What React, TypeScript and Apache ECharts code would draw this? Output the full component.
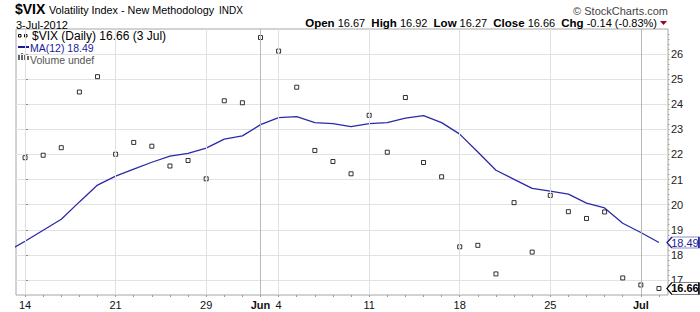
import React, { useEffect, useRef } from 'react';
import * as echarts from 'echarts';

// Trading days shown (14 May 2012 – 3 Jul 2012)
const days = [
  'May 14', 'May 15', 'May 16', 'May 17', 'May 18',
  'May 21', 'May 22', 'May 23', 'May 24', 'May 25',
  'May 29', 'May 30', 'May 31', 'Jun 1',
  'Jun 4', 'Jun 5', 'Jun 6', 'Jun 7', 'Jun 8',
  'Jun 11', 'Jun 12', 'Jun 13', 'Jun 14', 'Jun 15',
  'Jun 18', 'Jun 19', 'Jun 20', 'Jun 21', 'Jun 22',
  'Jun 25', 'Jun 26', 'Jun 27', 'Jun 28', 'Jun 29',
  'Jul 2', 'Jul 3',
];

// $VIX daily closes
const closes = [
  21.87, 21.97, 22.27, 24.49, 25.10,
  22.01, 22.48, 22.33, 21.54, 21.76,
  21.03, 24.14, 24.06, 26.66,
  26.12, 24.68, 22.16, 21.72, 21.23,
  23.56, 22.09, 24.27, 21.68, 21.11,
  18.32, 18.38, 17.24, 20.08, 18.11,
  20.37, 19.72, 19.45, 19.71, 17.08,
  16.80, 16.66,
];

// MA(12)
const ma12 = [
  18.54, 18.98, 19.42, 20.11, 20.78,
  21.14, 21.42, 21.69, 21.93, 22.04,
  22.25, 22.61, 22.74, 23.19,
  23.47, 23.51, 23.27, 23.23, 23.11,
  23.23, 23.27, 23.45, 23.55, 23.27,
  22.81, 22.10, 21.37, 21.01, 20.65,
  20.54, 20.42, 20.06, 19.87, 19.26,
  18.89, 18.49,
];
// MA(12) on the session before the window (11 May), off the left edge
const maBefore = 18.13;

// x-axis tick labels (at day index)
const xTickIndex = [0, 5, 10, 13, 14, 19, 24, 29, 34];
const xTickLabels = ['14', '21', '29', 'Jun', '4', '11', '18', '25', 'Jul'];
const monthStartIndex = [13, 34];

// y-axis
const yTicks = [17, 18, 19, 20, 21, 22, 23, 24, 25, 26];
const yMin = 16.4;
const yMax = 27;

const FONT = '"Liberation Sans", Arial, sans-serif';
const TAG = 'path://M0,5 L5,0 L32,0 L32,10 L5,10 Z';

export default function App() {
  const ref = useRef<HTMLDivElement>(null);

  useEffect(() => {
    if (!ref.current) return;
    const chart = echarts.init(ref.current, undefined, { renderer: 'svg' });

    const labelMap: Record<number, string> = {};
    xTickIndex.forEach((i, k) => (labelMap[i] = xTickLabels[k]));

    const dayIdx = days.map((_, i) => i);
    const minorY: number[] = [];
    for (let k = 0; k <= 52; k++) {
      const v = Math.round((16.6 + k * 0.2) * 10) / 10;
      if (v < yMax) minorY.push(v);
    }

    const last = days.length - 1;

    const option: any = {
      animation: false,
      backgroundColor: '#ffffff',
      textStyle: { fontFamily: FONT },
      grid: {
        left: 16,
        right: 32,
        top: 29,
        bottom: 17,
        show: true,
        borderColor: '#a6a6a6',
        borderWidth: 1,
        backgroundColor: '#ffffff',
      },
      xAxis: [
        {
          type: 'value',
          min: -0.5,
          max: last + 0.5,
          axisLine: { show: false },
          splitLine: { show: false },
          axisTick: {
            show: true,
            customValues: dayIdx,
            length: 2,
            lineStyle: { color: '#9a9a9a' },
          },
          axisLabel: {
            customValues: xTickIndex,
            margin: 4,
            color: '#111',
            fontSize: 11,
            fontFamily: FONT,
            formatter: (v: number) => {
              const s = labelMap[Math.round(v)] ?? '';
              return s === 'Jun' || s === 'Jul' ? `{b|${s}}` : s;
            },
            rich: {
              b: { fontWeight: 'bold', fontSize: 11, fontFamily: FONT, color: '#111' },
            },
          },
        },
      ],
      yAxis: [
        {
          type: 'value',
          position: 'right',
          min: yMin,
          max: yMax,
          axisLine: { show: false },
          axisTick: {
            show: true,
            customValues: yTicks,
            length: 3,
            lineStyle: { color: '#8a8a8a' },
          },
          axisLabel: {
            customValues: yTicks,
            margin: 3,
            color: '#222',
            fontSize: 11,
            fontFamily: FONT,
          },
          splitLine: { show: true, lineStyle: { color: '#e2e2e2', width: 1 } },
        },
        {
          type: 'value',
          position: 'right',
          min: yMin,
          max: yMax,
          axisLine: { show: false },
          axisLabel: { show: false },
          splitLine: { show: false },
          axisTick: {
            show: true,
            customValues: minorY,
            length: 1.5,
            lineStyle: { color: '#a0a0a0' },
          },
        },
      ],
      series: [
        {
          name: 'MA(12)',
          type: 'line',
          z: 2,
          data: [[-1, maBefore], ...ma12.map((v, i) => [i, v])],
          symbol: 'none',
          clip: true,
          lineStyle: { color: '#2a2aa8', width: 1.3 },
          markLine: {
            silent: true,
            symbol: ['none', 'none'],
            label: { show: false },
            data: xTickIndex.map((i) => ({
              xAxis: i,
              lineStyle: {
                color: monthStartIndex.includes(i) ? '#b9b9b9' : '#e0e0e0',
                width: 1,
                type: 'solid',
              },
            })),
          },
          markPoint: {
            silent: true,
            data: [
              {
                coord: [last, ma12[last]],
                symbol: TAG,
                symbolSize: [32, 11],
                symbolOffset: [24, 0],
                itemStyle: { color: '#ffffff', borderColor: '#1a1a99', borderWidth: 1 },
                label: {
                  show: true,
                  position: 'inside',
                  offset: [2, 0],
                  formatter: ma12[last].toFixed(2),
                  color: '#1a1a99',
                  fontSize: 11,
                  fontFamily: FONT,
                },
              },
            ],
          },
        },
        {
          name: '$VIX',
          type: 'scatter',
          z: 3,
          data: closes.map((v, i) => [i, v]),
          symbol: 'rect',
          symbolSize: 4,
          itemStyle: { color: '#ffffff', borderColor: '#000000', borderWidth: 1 },
          markPoint: {
            silent: true,
            data: [
              {
                coord: [last, closes[last]],
                symbol: TAG,
                symbolSize: [32, 12],
                symbolOffset: [24, 0],
                itemStyle: { color: '#ffffff', borderColor: '#000000', borderWidth: 1 },
                label: {
                  show: true,
                  position: 'inside',
                  offset: [2, 0],
                  formatter: closes[last].toFixed(2),
                  color: '#000000',
                  fontSize: 11,
                  fontWeight: 'bold',
                  fontFamily: FONT,
                },
              },
            ],
          },
        },
      ],
      graphic: [
        { type: 'text', left: 15, top: 2, style: { text: '$VIX', font: `bold 14px ${FONT}`, fill: '#000' } },
        { type: 'text', left: 49, top: 4, style: { text: 'Volatility Index - New Methodology', font: `10.8px ${FONT}`, fill: '#000' } },
        { type: 'text', left: 219, top: 5, style: { text: 'INDX', font: `10px ${FONT}`, fill: '#000' } },
        { type: 'text', left: 16, top: 19, style: { text: '3-Jul-2012', font: `11px ${FONT}`, fill: '#000' } },
        { type: 'text', right: 32, top: 5, style: { text: '© StockCharts.com', font: `11px ${FONT}`, fill: '#444' } },
        {
          type: 'text',
          right: 43,
          top: 17,
          style: {
            text: '{b|Open} 16.67  {b|High} 16.92  {b|Low} 16.27  {b|Close} 16.66  {b|Chg} -0.14 (-0.83%)',
            font: `11px ${FONT}`,
            fill: '#000',
            rich: {
              b: { font: `bold 11.5px ${FONT}`, fill: '#000' },
            },
          },
        },
        {
          type: 'polygon',
          shape: { points: [[660, 21], [667, 21], [663.5, 25]] },
          style: { fill: '#8b0a2a' },
        },
        // in-plot legend
        { type: 'rect', shape: { x: 18.5, y: 34.5, width: 2.5, height: 2.5 }, style: { fill: '#fff', stroke: '#000', lineWidth: 1 } },
        { type: 'rect', shape: { x: 24.5, y: 34.5, width: 2.5, height: 2.5 }, style: { fill: '#fff', stroke: '#000', lineWidth: 1 } },
        { type: 'text', left: 32, top: 30, style: { text: '$VIX (Daily) 16.66 (3 Jul)', font: `12px ${FONT}`, fill: '#000' } },
        { type: 'line', shape: { x1: 18, y1: 47, x2: 29, y2: 47 }, style: { stroke: '#1a1a99', lineWidth: 2 } },
        { type: 'text', left: 30, top: 42, style: { text: 'MA(12) 18.49', font: `10.5px ${FONT}`, fill: '#1a1a99' } },
        { type: 'rect', shape: { x: 18, y: 55, width: 2, height: 5 }, style: { fill: '#666' } },
        { type: 'rect', shape: { x: 21, y: 53, width: 2, height: 7 }, style: { fill: '#666' } },
        { type: 'rect', shape: { x: 24, y: 54, width: 2, height: 6 }, style: { fill: '#666' } },
        { type: 'rect', shape: { x: 27, y: 56, width: 2, height: 4 }, style: { fill: '#666' } },
        { type: 'text', left: 30, top: 54, style: { text: 'Volume undef', font: `10.5px ${FONT}`, fill: '#555' } },
      ],
    };

    chart.setOption(option);
    return () => chart.dispose();
  }, []);

  return (
    <div
      ref={ref}
      style={{ position: 'fixed', left: 0, top: 0, width: 700, height: 312, background: '#fff' }}
    />
  );
}
